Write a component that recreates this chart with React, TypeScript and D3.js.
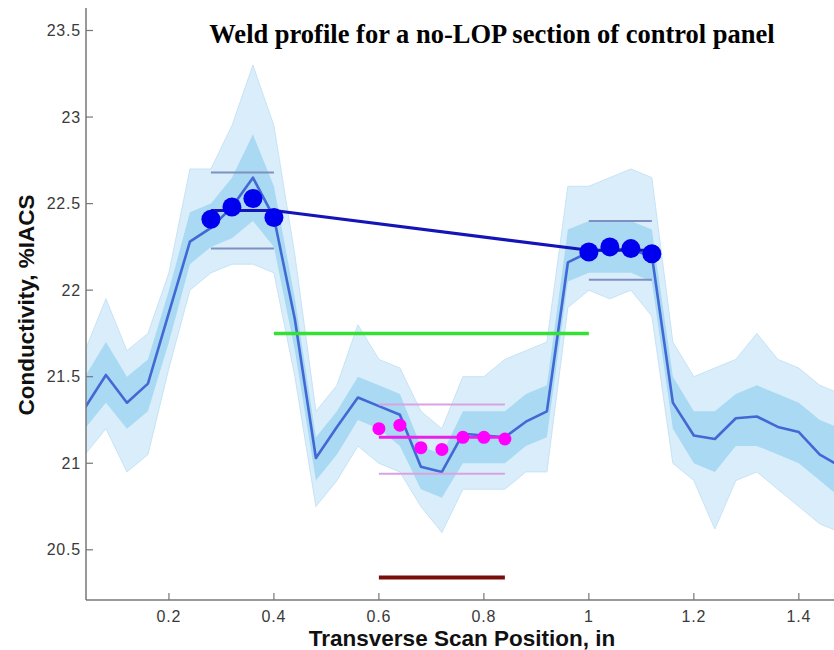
import React from "react";
import * as d3 from "d3";

// ---------- data ----------
const scanX = [0.04, 0.08, 0.12, 0.16, 0.20, 0.24, 0.28, 0.32, 0.36, 0.40, 0.44, 0.48, 0.52, 0.56, 0.60, 0.64, 0.68, 0.72, 0.76, 0.80, 0.84, 0.88, 0.92, 0.96, 1.00, 1.04, 1.08, 1.12, 1.16, 1.20, 1.24, 1.28, 1.32, 1.36, 1.40, 1.44, 1.48];
const meanProfile = [21.32, 21.51, 21.35, 21.46, 21.87, 22.28, 22.36, 22.48, 22.65, 22.42, 21.83, 21.03, 21.21, 21.38, 21.33, 21.28, 20.98, 20.95, 21.17, 21.16, 21.15, 21.24, 21.30, 22.16, 22.22, 22.24, 22.23, 22.20, 21.35, 21.16, 21.14, 21.26, 21.27, 21.21, 21.18, 21.05, 20.98];
const scansHigh = [21.65, 21.95, 21.65, 21.75, 22.10, 22.70, 22.70, 22.95, 23.30, 22.95, 22.20, 21.30, 21.45, 21.80, 21.60, 21.55, 21.30, 21.20, 21.50, 21.50, 21.60, 21.65, 21.70, 22.60, 22.60, 22.65, 22.70, 22.65, 21.70, 21.50, 21.55, 21.60, 21.75, 21.60, 21.55, 21.45, 21.40];
const scansLow = [21.05, 21.20, 20.95, 21.05, 21.55, 22.00, 22.10, 22.15, 22.15, 22.10, 21.50, 20.75, 20.90, 21.10, 21.00, 20.95, 20.75, 20.60, 20.85, 20.85, 20.85, 20.95, 20.95, 21.90, 22.00, 21.95, 22.00, 21.85, 21.00, 20.90, 20.62, 20.90, 20.95, 20.85, 20.75, 20.65, 20.60];
const coreHigh = [21.50, 21.70, 21.50, 21.60, 22.00, 22.45, 22.50, 22.65, 22.90, 22.60, 21.95, 21.15, 21.30, 21.50, 21.45, 21.40, 21.10, 21.05, 21.30, 21.30, 21.30, 21.40, 21.45, 22.35, 22.40, 22.40, 22.40, 22.35, 21.50, 21.30, 21.30, 21.40, 21.45, 21.40, 21.35, 21.25, 21.20];
const coreLow = [21.20, 21.35, 21.20, 21.30, 21.70, 22.15, 22.25, 22.30, 22.40, 22.25, 21.65, 20.90, 21.05, 21.25, 21.20, 21.10, 20.85, 20.80, 21.00, 21.00, 21.00, 21.10, 21.15, 22.05, 22.10, 22.10, 22.10, 22.05, 21.20, 21.00, 20.95, 21.10, 21.10, 21.05, 21.00, 20.90, 20.80];

const leftDotX = [0.28, 0.32, 0.36, 0.40];
const leftDotY = [22.41, 22.48, 22.53, 22.42];
const rightDotX = [1.00, 1.04, 1.08, 1.12];
const rightDotY = [22.22, 22.25, 22.24, 22.21];
const nuggetDotX = [0.60, 0.64, 0.68, 0.72, 0.76, 0.80, 0.84];
const nuggetDotY = [21.20, 21.22, 21.09, 21.08, 21.15, 21.15, 21.14];

const trendX = [0.28, 0.40, 1.00, 1.12];
const trendY = [22.46, 22.46, 22.23, 22.23];

const leftBandX = [0.28, 0.40];
const leftBandY = [22.68, 22.24];
const rightBandX = [1.00, 1.12];
const rightBandY = [22.40, 22.06];
const nuggetBandX = [0.60, 0.84];
const nuggetBandY = [21.34, 20.94];
const nuggetMean = 21.15;
const thresholdX = [0.40, 1.00];
const thresholdY = 21.75;
const widthBarX = [0.60, 0.84];
const widthBarY = 20.34;

const xTicks = [0.2, 0.4, 0.6, 0.8, 1, 1.2, 1.4];
const yTicks = [20.5, 21, 21.5, 22, 22.5, 23, 23.5];

const title = "Weld profile for a no-LOP section of control panel";
const xLabel = "Transverse Scan Position, in";
const yLabel = "Conductivity, %IACS";

// ---------- layout ----------
const W = 834, H = 650;
const left = 86, right = 834, top = 8, bottom = 600;

export default function App() {
  const x = d3.scaleLinear().domain([0.042, 1.467]).range([left, right]);
  const y = d3.scaleLinear().domain([20.21, 23.63]).range([bottom, top]);

  const idx = d3.range(scanX.length);
  const line = d3.line<number>().x((i) => x(scanX[i])).y((i) => y(meanProfile[i]));
  const outerArea = d3.area<number>().x((i) => x(scanX[i])).y0((i) => y(scansLow[i])).y1((i) => y(scansHigh[i]));
  const coreArea = d3.area<number>().x((i) => x(scanX[i])).y0((i) => y(coreLow[i])).y1((i) => y(coreHigh[i]));
  const hiLine = d3.line<number>().x((i) => x(scanX[i])).y((i) => y(scansHigh[i]));
  const loLine = d3.line<number>().x((i) => x(scanX[i])).y((i) => y(scansLow[i]));
  const trend = d3.line<number>().x((i) => x(trendX[i])).y((i) => y(trendY[i]));

  const sans = "'Liberation Sans', Arial, sans-serif";
  const tickColor = "#3a3a3a";

  return (
    <svg width={W} height={H} style={{ position: "absolute", left: 0, top: 0, background: "#fff" }}>
      <defs>
        <clipPath id="plotClip">
          <rect x={left} y={top} width={right - left} height={bottom - top} />
        </clipPath>
      </defs>
      <rect x={0} y={0} width={W} height={H} fill="#fff" />

      <g clipPath="url(#plotClip)">
        <path d={outerArea(idx) || ""} fill="#d9eefa" />
        <path d={hiLine(idx) || ""} fill="none" stroke="#c6e3f5" strokeWidth={1} />
        <path d={loLine(idx) || ""} fill="none" stroke="#c6e3f5" strokeWidth={1} />
        <path d={coreArea(idx) || ""} fill="#aad9f3" />
        <path d={line(idx) || ""} fill="none" stroke="#4268d4" strokeWidth={2.6} strokeLinejoin="round" />

        {/* variability band lines */}
        {leftBandY.map((v, i) => (
          <line key={"lb" + i} x1={x(leftBandX[0])} x2={x(leftBandX[1])} y1={y(v)} y2={y(v)} stroke="#7f8fc2" strokeWidth={2} />
        ))}
        {rightBandY.map((v, i) => (
          <line key={"rb" + i} x1={x(rightBandX[0])} x2={x(rightBandX[1])} y1={y(v)} y2={y(v)} stroke="#7f8fc2" strokeWidth={2} />
        ))}
        {nuggetBandY.map((v, i) => (
          <line key={"nb" + i} x1={x(nuggetBandX[0])} x2={x(nuggetBandX[1])} y1={y(v)} y2={y(v)} stroke="#d9a3e3" strokeWidth={2} />
        ))}

        {/* threshold */}
        <line x1={x(thresholdX[0])} x2={x(thresholdX[1])} y1={y(thresholdY)} y2={y(thresholdY)} stroke="#35e035" strokeWidth={3.5} />

        {/* trend connecting shoulders */}
        <path d={trend(d3.range(trendX.length)) || ""} fill="none" stroke="#1414b8" strokeWidth={3} />
        {leftDotX.map((v, i) => (
          <circle key={"ld" + i} cx={x(v)} cy={y(leftDotY[i])} r={9.5} fill="#0000ee" />
        ))}
        {rightDotX.map((v, i) => (
          <circle key={"rd" + i} cx={x(v)} cy={y(rightDotY[i])} r={9.5} fill="#0000ee" />
        ))}

        {/* nugget */}
        <line x1={x(nuggetBandX[0])} x2={x(nuggetBandX[1])} y1={y(nuggetMean)} y2={y(nuggetMean)} stroke="#e820e8" strokeWidth={3} />
        {nuggetDotX.map((v, i) => (
          <circle key={"nd" + i} cx={x(v)} cy={y(nuggetDotY[i])} r={6.5} fill="#ff00ff" />
        ))}

        {/* width bar */}
        <line x1={x(widthBarX[0])} x2={x(widthBarX[1])} y1={y(widthBarY)} y2={y(widthBarY)} stroke="#7a0c0c" strokeWidth={4} />
      </g>

      {/* axes */}
      <line x1={left} x2={left} y1={top} y2={bottom} stroke="#777" strokeWidth={1.5} />
      <line x1={left} x2={right} y1={bottom} y2={bottom} stroke="#777" strokeWidth={1.5} />
      {yTicks.map((t) => (
        <g key={"yt" + t}>
          <line x1={left} x2={left + 7} y1={y(t)} y2={y(t)} stroke="#777" strokeWidth={1.2} />
          <text x={left - 5} y={y(t) + 5.5} textAnchor="end" fontFamily={sans} fontSize={16} letterSpacing={0.8} fill={tickColor}>
            {String(t)}
          </text>
        </g>
      ))}
      {xTicks.map((t) => (
        <g key={"xt" + t}>
          <line x1={x(t)} x2={x(t)} y1={bottom} y2={bottom - 7} stroke="#777" strokeWidth={1.2} />
          <text x={x(t)} y={622} textAnchor="middle" fontFamily={sans} fontSize={16} letterSpacing={0.8} fill={tickColor}>
            {String(t)}
          </text>
        </g>
      ))}

      <text x={492} y={43} textAnchor="middle" fontFamily="'Liberation Serif', 'Times New Roman', serif" fontWeight="bold" fontSize={26.5} fill="#000">
        {title}
      </text>
      <text x={462} y={646} textAnchor="middle" fontFamily={sans} fontWeight="bold" fontSize={22.5} fill="#111">
        {xLabel}
      </text>
      <text transform={`translate(34,305) rotate(-90)`} textAnchor="middle" fontFamily={sans} fontWeight="bold" fontSize={22.5} fill="#111">
        {yLabel}
      </text>
    </svg>
  );
}
